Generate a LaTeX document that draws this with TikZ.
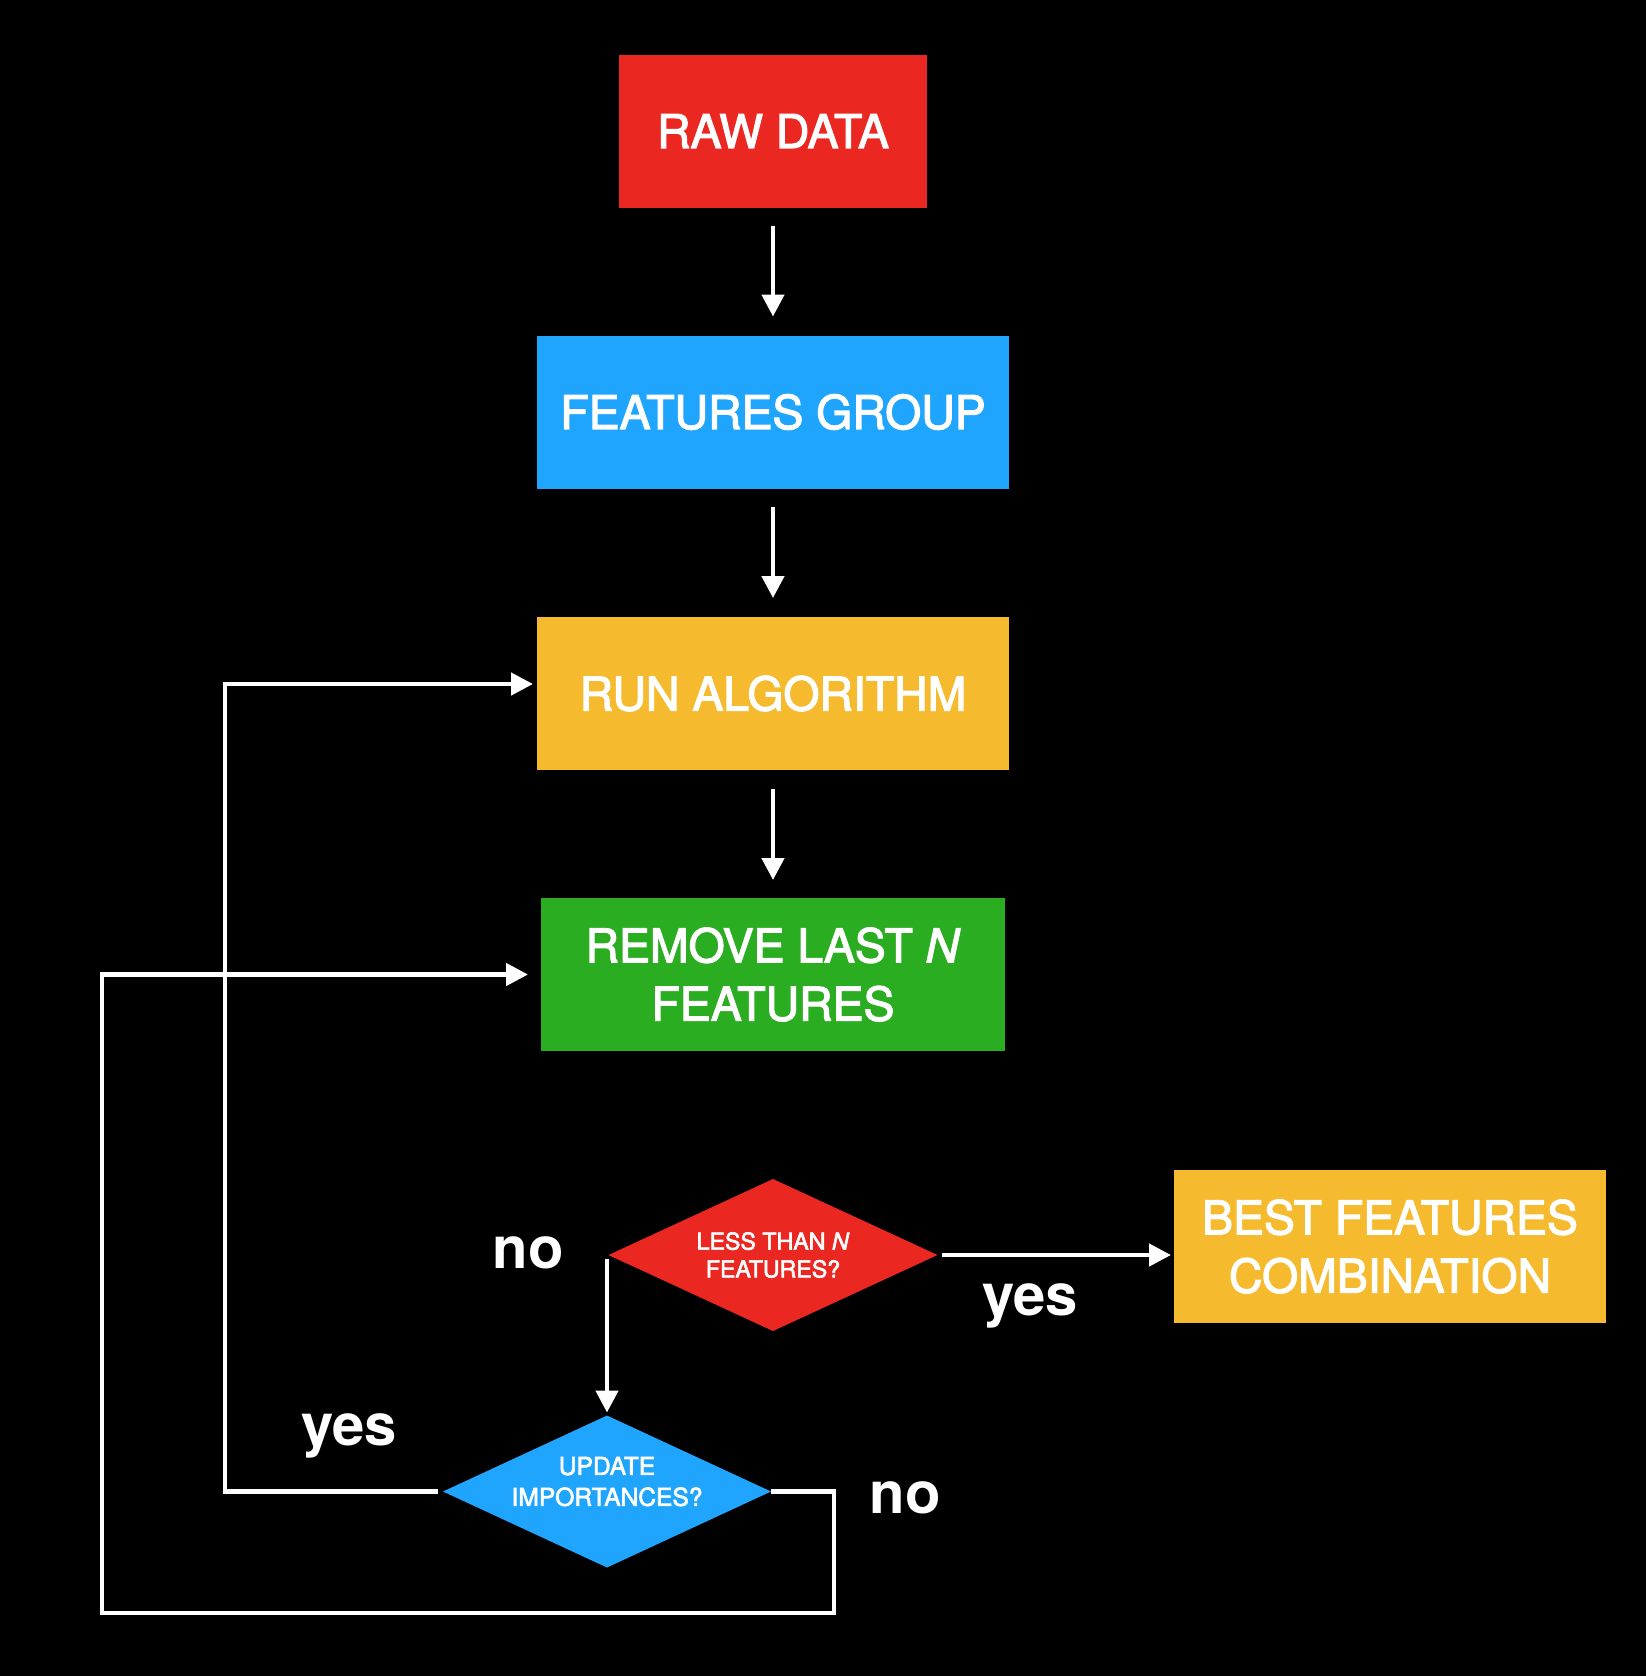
\documentclass[tikz,border=0pt]{standalone}
\usepackage{fontspec}
\setmainfont{TeX Gyre Heros}
\newfontfamily\mediumfont[FakeBold=2.5]{TeX Gyre Heros}
\usetikzlibrary{arrows.meta,shapes.geometric}

\definecolor{flowred}{RGB}{235,39,34}
\definecolor{flowblue}{RGB}{31,165,253}
\definecolor{flowyellow}{RGB}{246,186,46}
\definecolor{flowgreen}{RGB}{43,173,34}

\begin{document}
\begin{tikzpicture}[box/.style={rectangle, inner sep=0pt, outer sep=0pt,
                        minimum height=1.53cm, text=white, align=center,
                        font=\mediumfont\fontsize{13.2}{16.6}\selectfont},
                    decision/.style={diamond, inner sep=0pt, outer sep=0pt,
                        aspect=2.16, minimum height=1.52cm, text=white, align=center},
                    answer/.style={anchor=base, text=white,
                        font=\fontsize{16.5}{18}\selectfont\bfseries},
                    arrow/.style={white, line width=1.3pt,
                        -{Triangle[length=0.22cm, width=0.22cm]}}]
\fill[black] (0,0) rectangle (16.46,-16.76);

\node[box, fill=flowred, minimum width=3.08cm](raw) at (7.73,-1.31) {RAW DATA};
\node[box, fill=flowblue, minimum width=4.72cm](group) at (7.73,-4.12) {FEATURES GROUP};
\node[box, fill=flowyellow, minimum width=4.72cm](run) at (7.73,-6.935) {RUN ALGORITHM};
\node[box, fill=flowgreen, minimum width=4.64cm](remove) at (7.73,-9.745) {REMOVE LAST \textit{N}\\FEATURES};
\node[decision, fill=flowred, minimum width=3.29cm,
                        font=\mediumfont\fontsize{6.6}{7.9}\selectfont](less) at (7.73,-12.55) {LESS THAN \textit{N}\\FEATURES?};
\node[decision, fill=flowblue, minimum width=3.28cm,
                        font=\mediumfont\fontsize{7}{8.8}\selectfont](update) at (6.07,-14.915)
                        {\raisebox{2.1pt}[\height][\depth]{\begin{tabular}{@{}c@{}}UPDATE\\IMPORTANCES?\end{tabular}}};
\node[box, fill=flowyellow, minimum width=4.32cm](best) at (13.90,-12.465) {BEST FEATURES\\COMBINATION};

\coordinate (yesturn) at (2.25,-6.84);
\coordinate (noturn) at (8.34,-16.13);
\coordinate (loopend) at (1.02,-16.13);

\draw[arrow, shorten <=0.18cm, shorten >=0.19cm] (raw) -- (group);
\draw[arrow, shorten <=0.18cm, shorten >=0.19cm] (group) -- (run);
\draw[arrow, shorten <=0.19cm, shorten >=0.18cm] (run) -- (remove);
\draw[arrow, shorten <=0.04cm, shorten >=0.03cm] (less.east) -- (best.west |- less.east);
\draw[arrow, shorten <=0.04cm, shorten >=0.03cm] (update.north |- less.west) -- (update.north);
\draw[arrow, shorten <=0.05cm, shorten >=0.04cm] (update.west) -| (yesturn) -- (run.west |- yesturn);
\draw[arrow, shorten >=0.13cm] (update.east) -| (noturn) -- (loopend) |- (remove.west);

\node[answer](lessno) at (5.28,-12.68) {no};
\node[answer](lessyes) at (10.30,-13.15) {yes};
\node[answer](updyes) at (3.49,-14.45) {yes};
\node[answer](updno) at (9.05,-15.13) {no};
% \draw (update.south) -- (loopend);
\end{tikzpicture}
\end{document}
